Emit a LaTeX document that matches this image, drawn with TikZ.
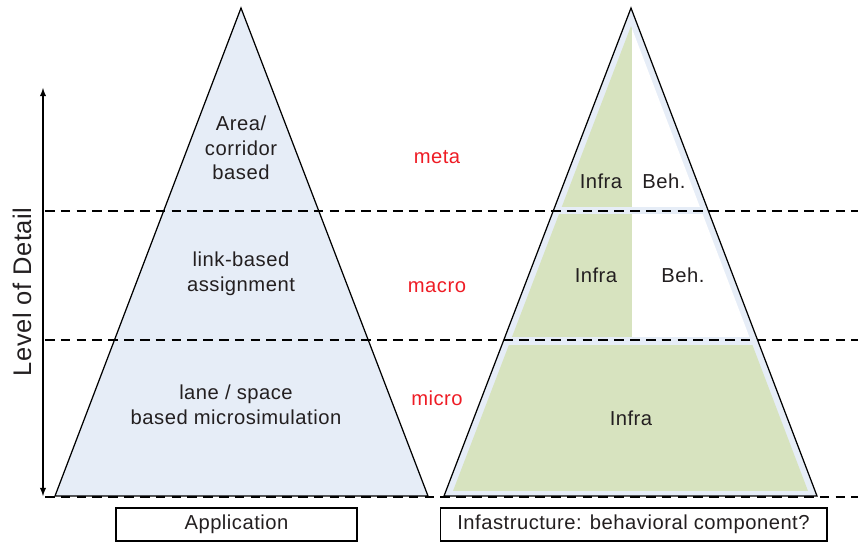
\documentclass[tikz,border=0pt]{standalone}
\usepackage{fontspec}
\setmainfont{Liberation Sans}[LetterSpace = 2.5]
\definecolor{lodblue}{HTML}{E6EDF7}
\definecolor{infragreen}{HTML}{D7E3BF}
\definecolor{lvlred}{HTML}{EE1C25}
\definecolor{ink}{HTML}{231F20}
\tikzset{
  txt/.style = {text = ink, align = center, font = \fontsize{11.5}{14}\selectfont},
  lvl/.style = {text = lvlred, font = \fontsize{11.5}{14}\selectfont},
  capbox/.style = {draw, line width = .6pt, txt, minimum height = .66cm, inner sep = 0pt},
  lvlline/.style = {dash pattern = on 5.5pt off 3.5pt, line width = .6pt}
}
\begin{document}
\begin{tikzpicture}[x = .02cm, y = -.02cm, text = ink]
  \useasboundingbox (0, 0) rectangle (858, 544);
  \filldraw[fill = lodblue, line width = .7pt] (241, 8) -- (428, 496) -- (55, 496) -- cycle;
  \filldraw[fill = lodblue, line width = .7pt] (631, 8) -- (817, 496) -- (444, 496) -- cycle;
  \begin{scope}
    \clip (631, 26) -- (808, 491) -- (453, 491) -- cycle;
    \fill[infragreen] (440, 0) rectangle (632, 207);
    \fill[white] (632, 0) rectangle (820, 207);
    \fill[infragreen] (440, 214) rectangle (632, 337);
    \fill[white] (632, 214) rectangle (820, 337);
    \fill[infragreen] (440, 345) rectangle (820, 491);
  \end{scope}
  \coordinate (l1) at (45, 211); \coordinate (r1) at (858, 211);
  \coordinate (l2) at (45, 340); \coordinate (r2) at (858, 340);
  \coordinate (l3) at (45, 497); \coordinate (r3) at (858, 497);
  \draw[lvlline] (l1) -- (r1);
  \draw[lvlline] (l2) -- (r2);
  \draw[lvlline] (l3) -- (r3);
  \coordinate (lodtop) at (43, 88);
  \coordinate (lodbot) at (43, 496);
  \draw[line width = .6pt, latex-latex] (lodtop) -- (lodbot) node[pos = .5,
  rotate = 90, above = 3pt, font = \fontsize{14.5}{16}\selectfont] (lod) {Level of Detail};
  \node[txt] (area) at (241, 148) {Area/\\corridor\\based};
  \node[txt] (link) at (241, 274) {link-based\\assignment};
  \node[txt] (lane) at (236, 405) {lane / space\\based microsimulation};
  \node[lvl] (meta) at (437, 157) {meta};
  \node[lvl] (macro) at (437, 287) {macro};
  \node[lvl] (micro) at (437, 398) {micro};
  \node[txt] (infra1) at (601, 181) {Infra};
  \node[txt] (beh1) at (664, 181) {Beh.};
  \node[txt] (infra2) at (596, 275) {Infra};
  \node[txt] (beh2) at (683, 275) {Beh.};
  \node[txt] (infra3) at (631, 418) {Infra};
  \node[capbox, minimum width = 4.82cm] (app) at (236.5, 524.5) {Application};
  \node[capbox, minimum width = 7.74cm] (infbox) at (633.5, 524.5)
  {Infastructure: behavioral component?};
\end{tikzpicture}
\end{document}
